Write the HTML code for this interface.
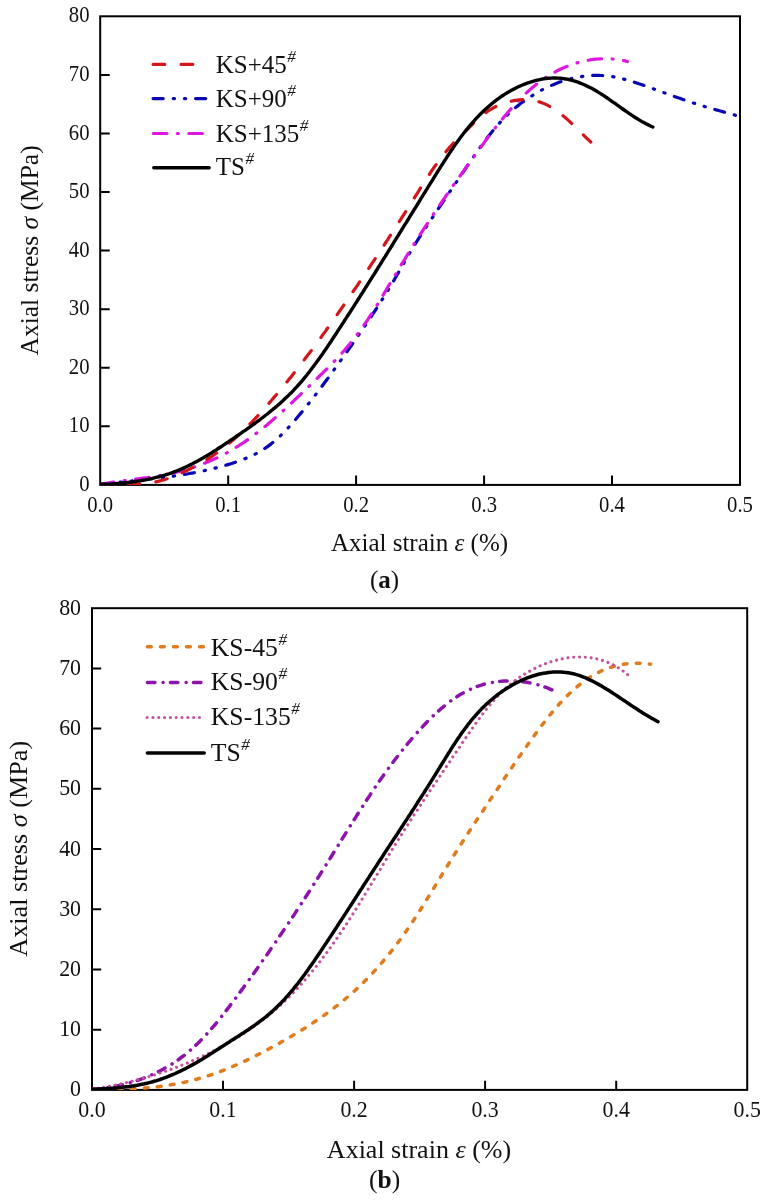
<!DOCTYPE html>
<html><head><meta charset="utf-8"><title>Axial stress-strain curves</title>
<style>
html,body{margin:0;padding:0;background:#fff;}
body{width:766px;height:1201px;overflow:hidden;}
svg{display:block;will-change:transform;}
text{font-family:"Liberation Serif", serif;fill:#111;}
</style></head><body>
<svg width="766" height="1201" viewBox="0 0 766 1201">
<rect width="766" height="1201" fill="#fff"/>
<clipPath id="ct"><rect x="100.25" y="16.3" width="639.75" height="468.6"/></clipPath>
<clipPath id="cb"><rect x="92" y="608.2" width="655.2" height="481.7"/></clipPath>
<rect x="100.2" y="16.3" width="639.8" height="468.6" fill="none" stroke="#000" stroke-width="2.0"/>
<path d="M100.2,426.3h9.5M100.2,367.8h9.5M100.2,309.2h9.5M100.2,250.6h9.5M100.2,192.0h9.5M100.2,133.4h9.5M100.2,74.9h9.5M228.2,484.9v-9.5M356.1,484.9v-9.5M484.1,484.9v-9.5M612.0,484.9v-9.5" stroke="#000" stroke-width="2.0" fill="none"/>
<text transform="translate(89.5,490.9) scale(0.900,1)" text-anchor="end" font-size="23.0">0</text>
<text transform="translate(89.5,432.4) scale(0.900,1)" text-anchor="end" font-size="23.0">10</text>
<text transform="translate(89.5,373.8) scale(0.900,1)" text-anchor="end" font-size="23.0">20</text>
<text transform="translate(89.5,315.2) scale(0.900,1)" text-anchor="end" font-size="23.0">30</text>
<text transform="translate(89.5,256.6) scale(0.900,1)" text-anchor="end" font-size="23.0">40</text>
<text transform="translate(89.5,198.1) scale(0.900,1)" text-anchor="end" font-size="23.0">50</text>
<text transform="translate(89.5,139.5) scale(0.900,1)" text-anchor="end" font-size="23.0">60</text>
<text transform="translate(89.5,80.9) scale(0.900,1)" text-anchor="end" font-size="23.0">70</text>
<text transform="translate(89.5,22.4) scale(0.900,1)" text-anchor="end" font-size="23.0">80</text>
<text transform="translate(100.2,511.5) scale(0.900,1)" text-anchor="middle" font-size="23.0">0.0</text>
<text transform="translate(228.2,511.5) scale(0.900,1)" text-anchor="middle" font-size="23.0">0.1</text>
<text transform="translate(356.1,511.5) scale(0.900,1)" text-anchor="middle" font-size="23.0">0.2</text>
<text transform="translate(484.1,511.5) scale(0.900,1)" text-anchor="middle" font-size="23.0">0.3</text>
<text transform="translate(612.0,511.5) scale(0.900,1)" text-anchor="middle" font-size="23.0">0.4</text>
<text transform="translate(740.0,511.5) scale(0.900,1)" text-anchor="middle" font-size="23.0">0.5</text>
<path d="M100.0,484.5L102.5,484.2L105.0,483.9L107.5,483.6L109.9,483.3L112.4,483.0L114.9,482.7L117.4,482.5L119.9,482.2L122.4,481.9L124.9,481.7L127.4,481.4L129.9,481.1L132.4,480.9L134.8,480.6L137.3,480.4L139.8,480.1L142.3,479.8L144.8,479.6L147.3,479.3L149.8,479.0L152.3,478.7L154.8,478.5L157.2,478.2L159.7,477.9L162.2,477.6L164.7,477.2L167.2,476.9L169.7,476.6L172.2,476.3L174.6,475.9L177.1,475.5L179.6,475.2L182.1,474.8L184.5,474.4L187.0,474.0L189.5,473.5L191.9,473.1L194.4,472.7L196.9,472.2L199.3,471.7L201.8,471.2L204.2,470.7L206.7,470.1L209.1,469.6L211.5,469.0L214.0,468.4L216.4,467.8L218.8,467.2L221.2,466.5L223.7,465.8L226.1,465.1L228.5,464.4L230.9,463.7L233.2,462.9L235.6,462.1L238.0,461.3L240.3,460.5L242.7,459.6L245.0,458.7L247.3,457.7L249.6,456.7L251.9,455.7L254.2,454.6L256.4,453.5L258.6,452.3L260.8,451.0L262.9,449.7L265.0,448.3L267.1,446.9L269.1,445.4L271.1,443.9L273.0,442.3L274.9,440.7L276.8,439.1L278.7,437.4L280.5,435.7L282.3,433.9L284.0,432.2L285.8,430.3L287.5,428.5L289.2,426.7L290.9,424.8L292.5,423.0L294.2,421.1L295.8,419.2L297.4,417.3L299.1,415.3L300.7,413.4L302.3,411.5L303.8,409.5L305.4,407.6L307.0,405.7L308.5,403.7L310.1,401.7L311.7,399.8L313.2,397.8L314.7,395.8L316.3,393.8L317.8,391.8L319.3,389.8L320.8,387.8L322.3,385.8L323.8,383.8L325.3,381.8L326.8,379.8L328.3,377.8L329.7,375.8L331.2,373.7L332.7,371.7L334.1,369.7L335.6,367.6L337.1,365.6L338.5,363.6L340.0,361.5L341.4,359.5L342.9,357.5L344.3,355.4L345.8,353.4L347.2,351.3L348.7,349.3L350.1,347.2L351.6,345.2L353.0,343.1L354.4,341.1L355.9,339.0L357.3,337.0L358.7,334.9L360.1,332.9L361.6,330.8L363.0,328.7L364.4,326.7L365.8,324.6L367.2,322.5L368.6,320.4L370.0,318.3L371.4,316.3L372.8,314.2L374.1,312.1L375.5,310.0L376.9,307.9L378.2,305.8L379.6,303.7L380.9,301.6L382.3,299.4L383.6,297.3L384.9,295.2L386.2,293.1L387.6,290.9L388.9,288.8L390.2,286.7L391.4,284.5L392.7,282.4L394.0,280.2L395.3,278.0L396.5,275.9L397.8,273.7L399.0,271.5L400.3,269.4L401.5,267.2L402.8,265.0L404.0,262.8L405.3,260.7L406.5,258.5L407.8,256.4L409.0,254.2L410.3,252.0L411.6,249.9L412.9,247.7L414.2,245.6L415.5,243.5L416.9,241.4L418.2,239.2L419.6,237.1L420.9,235.0L422.3,232.9L423.7,230.8L425.0,228.8L426.4,226.7L427.8,224.6L429.2,222.5L430.6,220.4L432.0,218.3L433.4,216.2L434.8,214.2L436.1,212.1L437.5,210.0L438.9,207.9L440.3,205.8L441.7,203.8L443.1,201.7L444.5,199.6L445.9,197.5L447.3,195.5L448.7,193.4L450.1,191.3L451.5,189.2L452.9,187.2L454.3,185.1L455.8,183.0L457.2,180.9L458.6,178.9L460.0,176.8L461.4,174.7L462.8,172.6L464.2,170.6L465.6,168.5L467.0,166.4L468.4,164.3L469.8,162.3L471.2,160.2L472.6,158.1L474.0,156.1L475.4,154.0L476.9,151.9L478.3,149.9L479.8,147.9L481.2,145.8L482.7,143.8L484.2,141.8L485.7,139.8L487.2,137.8L488.8,135.8L490.3,133.9L491.9,131.9L493.5,130.0L495.1,128.1L496.7,126.2L498.4,124.3L500.1,122.4L501.8,120.6L503.5,118.8L505.3,117.0L507.1,115.3L508.9,113.5L510.7,111.8L512.6,110.2L514.5,108.5L516.4,106.9L518.4,105.4L520.3,103.8L522.3,102.3L524.3,100.8L526.4,99.4L528.5,98.0L530.6,96.6L532.7,95.3L534.8,93.9L537.0,92.7L539.1,91.4L541.3,90.2L543.6,89.1L545.8,88.0L548.1,86.9L550.4,85.9L552.6,84.9L555.0,83.9L557.3,83.0L559.6,82.1L562.0,81.3L564.4,80.6L566.8,79.8L569.2,79.2L571.6,78.5L574.1,78.0L576.5,77.4L579.0,77.0L581.5,76.6L583.9,76.2L586.4,75.9L588.9,75.7L591.4,75.5L593.9,75.4L596.4,75.4L598.9,75.4L601.4,75.5L603.9,75.6L606.4,75.9L608.9,76.2L611.4,76.5L613.9,76.9L616.3,77.4L618.8,77.9L621.2,78.5L623.6,79.1L626.0,79.7L628.5,80.4L630.9,81.1L633.3,81.9L635.6,82.6L638.0,83.4L640.4,84.2L642.8,85.0L645.1,85.9L647.5,86.7L649.8,87.6L652.2,88.4L654.5,89.3L656.9,90.1L659.3,91.0L661.6,91.8L664.0,92.7L666.3,93.5L668.7,94.4L671.0,95.2L673.4,96.1L675.7,96.9L678.1,97.8L680.5,98.6L682.8,99.4L685.2,100.3L687.6,101.1L689.9,101.9L692.3,102.7L694.7,103.4L697.1,104.2L699.5,104.9L701.9,105.7L704.3,106.4L706.7,107.1L709.1,107.8L711.5,108.5L713.9,109.2L716.3,109.9L718.7,110.5L721.1,111.2L723.5,111.9L725.9,112.6L728.4,113.2L730.8,113.9L733.2,114.6L735.6,115.3L738.0,115.9L740.4,116.6L742.8,117.3L745.2,118.0L747.6,118.8L750.0,119.5" fill="none" stroke="#0707b4" stroke-width="3.20" stroke-linecap="round" stroke-linejoin="round" stroke-dasharray="10.1 10 1.3 9.9 1.3 9.9" clip-path="url(#ct)" />
<path d="M100.5,484.4L103.0,483.9L105.4,483.5L107.9,483.0L110.4,482.6L112.8,482.2L115.3,481.9L117.8,481.5L120.3,481.1L122.8,480.8L125.2,480.5L127.7,480.1L130.2,479.8L132.7,479.5L135.2,479.2L137.7,478.8L140.1,478.5L142.6,478.2L145.1,477.8L147.6,477.5L150.1,477.1L152.5,476.8L155.0,476.4L157.5,476.0L160.0,475.6L162.4,475.1L164.9,474.7L167.3,474.2L169.8,473.7L172.2,473.1L174.7,472.6L177.1,472.0L179.5,471.4L182.0,470.7L184.4,470.0L186.8,469.3L189.2,468.6L191.6,467.9L194.0,467.1L196.3,466.3L198.7,465.4L201.0,464.6L203.4,463.7L205.7,462.7L208.0,461.8L210.3,460.8L212.6,459.8L214.9,458.8L217.2,457.7L219.4,456.6L221.7,455.5L223.9,454.3L226.1,453.2L228.3,452.0L230.5,450.7L232.6,449.5L234.8,448.2L236.9,446.8L239.0,445.5L241.1,444.1L243.2,442.8L245.3,441.4L247.3,439.9L249.4,438.5L251.4,437.0L253.4,435.5L255.4,434.0L257.4,432.5L259.4,431.0L261.4,429.4L263.3,427.8L265.3,426.2L267.2,424.7L269.1,423.0L271.0,421.4L272.9,419.8L274.8,418.1L276.7,416.5L278.6,414.8L280.4,413.2L282.3,411.5L284.1,409.8L286.0,408.1L287.8,406.4L289.7,404.7L291.5,403.0L293.3,401.3L295.1,399.5L296.9,397.8L298.8,396.1L300.6,394.3L302.4,392.6L304.2,390.9L306.0,389.1L307.8,387.4L309.6,385.7L311.4,383.9L313.2,382.2L315.0,380.5L316.8,378.7L318.6,377.0L320.4,375.2L322.2,373.5L324.0,371.7L325.8,370.0L327.5,368.2L329.3,366.4L331.1,364.6L332.8,362.8L334.6,361.0L336.3,359.2L338.0,357.4L339.7,355.6L341.4,353.7L343.1,351.8L344.7,350.0L346.3,348.1L348.0,346.1L349.6,344.2L351.1,342.3L352.7,340.3L354.3,338.4L355.8,336.4L357.3,334.4L358.8,332.4L360.3,330.3L361.7,328.3L363.2,326.3L364.6,324.2L366.0,322.2L367.5,320.1L368.8,318.0L370.2,315.9L371.6,313.8L372.9,311.7L374.3,309.6L375.6,307.4L376.9,305.3L378.2,303.2L379.5,301.0L380.8,298.9L382.1,296.7L383.4,294.6L384.7,292.4L386.0,290.3L387.2,288.1L388.5,286.0L389.8,283.8L391.1,281.7L392.4,279.5L393.7,277.4L395.0,275.2L396.3,273.1L397.5,271.0L398.8,268.8L400.1,266.7L401.4,264.5L402.8,262.4L404.1,260.3L405.4,258.1L406.7,256.0L408.0,253.9L409.3,251.7L410.6,249.6L412.0,247.5L413.3,245.4L414.6,243.2L416.0,241.1L417.3,239.0L418.7,236.9L420.0,234.8L421.4,232.7L422.7,230.6L424.1,228.5L425.5,226.4L426.8,224.3L428.2,222.2L429.6,220.1L431.0,218.0L432.4,215.9L433.7,213.8L435.1,211.7L436.5,209.7L437.9,207.6L439.4,205.5L440.8,203.5L442.2,201.4L443.6,199.3L445.0,197.3L446.4,195.2L447.9,193.1L449.3,191.1L450.7,189.0L452.2,187.0L453.6,184.9L455.1,182.9L456.5,180.8L458.0,178.8L459.4,176.8L460.9,174.7L462.3,172.7L463.8,170.6L465.2,168.6L466.7,166.6L468.2,164.5L469.6,162.5L471.1,160.5L472.6,158.5L474.1,156.4L475.5,154.4L477.0,152.4L478.5,150.4L480.0,148.4L481.5,146.3L483.0,144.3L484.4,142.3L485.9,140.3L487.4,138.3L488.9,136.3L490.4,134.3L491.9,132.3L493.5,130.3L495.0,128.3L496.5,126.3L498.1,124.3L499.6,122.4L501.2,120.4L502.8,118.5L504.3,116.5L506.0,114.6L507.6,112.7L509.2,110.8L510.9,108.9L512.5,107.0L514.2,105.2L515.9,103.4L517.6,101.5L519.4,99.7L521.1,98.0L522.9,96.2L524.7,94.5L526.6,92.7L528.4,91.1L530.3,89.4L532.2,87.8L534.1,86.2L536.1,84.6L538.0,83.1L540.0,81.5L542.1,80.1L544.1,78.6L546.2,77.3L548.3,75.9L550.4,74.6L552.6,73.3L554.8,72.1L557.0,70.9L559.2,69.8L561.5,68.7L563.8,67.7L566.1,66.7L568.4,65.8L570.8,64.9L573.1,64.1L575.5,63.3L577.9,62.6L580.3,62.0L582.8,61.4L585.2,60.8L587.7,60.3L590.1,59.9L592.6,59.5L595.1,59.2L597.6,59.0L600.1,58.8L602.6,58.7L605.1,58.7L607.6,58.7L610.1,58.8L612.6,59.0L615.1,59.2L617.6,59.5L620.1,59.9L622.5,60.3L625.0,60.9L627.4,61.5" fill="none" stroke="#dc18e0" stroke-width="3.20" stroke-linecap="round" stroke-linejoin="round" stroke-dasharray="13.5 10.5 1 10.5" clip-path="url(#ct)" />
<path d="M100.0,484.5L102.5,484.5L105.0,484.5L107.5,484.6L110.0,484.6L112.5,484.6L115.0,484.7L117.6,484.7L120.1,484.7L122.6,484.7L125.1,484.7L127.6,484.7L130.1,484.6L132.6,484.5L135.1,484.4L137.6,484.3L140.1,484.1L142.6,483.9L145.1,483.6L147.6,483.3L150.1,482.9L152.6,482.5L155.0,482.1L157.5,481.5L159.9,480.9L162.3,480.3L164.7,479.6L167.1,478.8L169.5,478.0L171.8,477.1L174.2,476.2L176.5,475.2L178.8,474.2L181.1,473.2L183.3,472.1L185.6,471.1L187.9,470.0L190.1,468.9L192.4,467.7L194.6,466.6L196.8,465.4L199.0,464.2L201.2,463.0L203.4,461.7L205.5,460.4L207.6,459.1L209.8,457.7L211.8,456.4L213.9,454.9L216.0,453.5L218.0,452.0L220.0,450.5L222.0,449.0L224.0,447.5L226.0,445.9L227.9,444.3L229.8,442.7L231.7,441.1L233.6,439.5L235.5,437.8L237.4,436.1L239.2,434.4L241.1,432.7L242.9,431.0L244.7,429.2L246.5,427.5L248.3,425.7L250.0,423.9L251.8,422.1L253.5,420.3L255.2,418.5L257.0,416.7L258.7,414.9L260.4,413.0L262.0,411.1L263.7,409.3L265.4,407.4L267.1,405.5L268.7,403.6L270.3,401.7L272.0,399.8L273.6,397.9L275.2,396.0L276.9,394.1L278.5,392.2L280.1,390.3L281.7,388.3L283.3,386.4L284.9,384.5L286.4,382.5L288.0,380.6L289.6,378.6L291.2,376.7L292.7,374.7L294.3,372.7L295.8,370.7L297.4,368.8L298.9,366.8L300.4,364.8L302.0,362.8L303.5,360.8L305.0,358.8L306.5,356.8L308.0,354.8L309.6,352.8L311.1,350.8L312.6,348.8L314.0,346.8L315.5,344.8L317.0,342.8L318.5,340.7L320.0,338.7L321.5,336.7L322.9,334.6L324.4,332.6L325.9,330.6L327.3,328.5L328.8,326.5L330.2,324.4L331.7,322.4L333.1,320.4L334.6,318.3L336.0,316.3L337.5,314.2L338.9,312.1L340.3,310.1L341.8,308.0L343.2,306.0L344.6,303.9L346.0,301.8L347.5,299.8L348.9,297.7L350.3,295.6L351.7,293.6L353.1,291.5L354.6,289.4L356.0,287.4L357.4,285.3L358.8,283.2L360.2,281.1L361.6,279.0L363.0,277.0L364.4,274.9L365.8,272.8L367.2,270.7L368.6,268.6L370.0,266.5L371.3,264.4L372.7,262.4L374.1,260.3L375.5,258.2L376.9,256.1L378.3,254.0L379.6,251.9L381.0,249.8L382.4,247.7L383.8,245.6L385.1,243.5L386.5,241.4L387.9,239.3L389.2,237.2L390.6,235.1L392.0,233.0L393.3,230.9L394.7,228.8L396.0,226.7L397.4,224.5L398.8,222.4L400.1,220.3L401.5,218.2L402.8,216.1L404.2,214.0L405.5,211.9L406.9,209.7L408.2,207.6L409.5,205.5L410.9,203.4L412.2,201.3L413.6,199.2L414.9,197.0L416.2,194.9L417.6,192.8L418.9,190.7L420.2,188.5L421.6,186.4L422.9,184.3L424.3,182.2L425.6,180.1L427.0,178.0L428.4,175.9L429.7,173.8L431.1,171.7L432.5,169.6L434.0,167.5L435.4,165.5L436.9,163.4L438.3,161.4L439.8,159.4L441.4,157.4L442.9,155.4L444.5,153.5L446.1,151.5L447.7,149.6L449.3,147.7L451.0,145.9L452.7,144.0L454.4,142.2L456.2,140.4L457.9,138.6L459.7,136.9L461.5,135.1L463.3,133.3L465.1,131.6L466.8,129.8L468.6,128.0L470.4,126.3L472.2,124.5L474.0,122.7L475.8,121.0L477.6,119.3L479.5,117.6L481.4,116.0L483.4,114.4L485.4,112.9L487.4,111.5L489.5,110.1L491.7,108.8L493.8,107.6L496.1,106.4L498.4,105.4L500.7,104.4L503.0,103.5L505.4,102.7L507.8,102.0L510.2,101.4L512.7,100.9L515.1,100.4L517.6,100.1L520.1,99.9L522.6,99.7L525.1,99.7L527.7,99.8L530.2,100.0L532.6,100.4L535.1,100.8L537.5,101.4L539.9,102.1L542.3,102.9L544.6,103.9L546.9,104.9L549.1,106.1L551.3,107.3L553.5,108.6L555.6,110.0L557.6,111.5L559.6,113.0L561.6,114.5L563.5,116.1L565.4,117.7L567.3,119.4L569.2,121.1L571.0,122.8L572.8,124.5L574.6,126.2L576.4,128.0L578.2,129.8L580.0,131.5L581.8,133.3L583.6,135.1L585.3,136.8L587.1,138.6L589.0,140.3L590.8,142.0" fill="none" stroke="#d3161c" stroke-width="3.20" stroke-linecap="round" stroke-linejoin="round" stroke-dasharray="11.7 16.3" clip-path="url(#ct)" />
<path d="M100.5,484.4L103.0,484.3L105.5,484.2L108.0,484.1L110.5,484.0L113.0,483.8L115.5,483.7L118.0,483.5L120.5,483.3L123.0,483.0L125.5,482.8L127.9,482.5L130.4,482.2L132.9,481.9L135.4,481.5L137.8,481.1L140.3,480.7L142.8,480.3L145.2,479.9L147.7,479.4L150.1,478.9L152.6,478.3L155.0,477.7L157.4,477.1L159.9,476.5L162.3,475.8L164.7,475.1L167.1,474.3L169.4,473.6L171.8,472.8L174.1,471.9L176.5,471.0L178.8,470.1L181.1,469.1L183.4,468.1L185.7,467.1L187.9,466.0L190.2,464.9L192.4,463.8L194.6,462.6L196.8,461.4L199.0,460.2L201.2,459.0L203.4,457.8L205.5,456.5L207.7,455.2L209.8,453.9L211.9,452.6L214.0,451.2L216.2,449.9L218.3,448.5L220.3,447.2L222.4,445.8L224.5,444.4L226.6,443.0L228.7,441.6L230.7,440.2L232.8,438.8L234.9,437.4L236.9,436.0L239.0,434.6L241.1,433.2L243.1,431.7L245.2,430.3L247.2,428.9L249.3,427.4L251.3,426.0L253.3,424.5L255.4,423.0L257.4,421.5L259.4,420.1L261.4,418.5L263.4,417.0L265.3,415.5L267.3,414.0L269.3,412.4L271.2,410.8L273.1,409.2L275.1,407.6L277.0,406.0L278.8,404.4L280.7,402.7L282.6,401.0L284.4,399.3L286.2,397.6L288.0,395.9L289.8,394.1L291.6,392.4L293.3,390.6L295.0,388.7L296.7,386.9L298.4,385.0L300.1,383.2L301.7,381.3L303.3,379.4L304.9,377.4L306.5,375.5L308.0,373.5L309.6,371.6L311.1,369.6L312.6,367.6L314.1,365.6L315.6,363.6L317.1,361.6L318.5,359.5L320.0,357.5L321.4,355.5L322.9,353.4L324.3,351.3L325.7,349.3L327.1,347.2L328.5,345.1L329.9,343.0L331.3,341.0L332.6,338.9L334.0,336.8L335.4,334.7L336.8,332.6L338.1,330.5L339.5,328.4L340.9,326.3L342.2,324.2L343.6,322.1L344.9,320.0L346.3,317.9L347.6,315.8L349.0,313.7L350.4,311.6L351.7,309.5L353.1,307.4L354.4,305.3L355.7,303.2L357.1,301.1L358.4,299.0L359.8,296.9L361.1,294.7L362.5,292.6L363.8,290.5L365.1,288.4L366.5,286.3L367.8,284.2L369.1,282.1L370.5,279.9L371.8,277.8L373.1,275.7L374.5,273.6L375.8,271.5L377.1,269.3L378.4,267.2L379.8,265.1L381.1,263.0L382.4,260.9L383.7,258.7L385.1,256.6L386.4,254.5L387.7,252.4L389.0,250.2L390.4,248.1L391.7,246.0L393.0,243.9L394.3,241.7L395.6,239.6L396.9,237.5L398.3,235.4L399.6,233.2L400.9,231.1L402.2,229.0L403.5,226.9L404.8,224.7L406.2,222.6L407.5,220.5L408.8,218.4L410.1,216.2L411.4,214.1L412.7,212.0L414.0,209.8L415.4,207.7L416.7,205.6L418.0,203.5L419.3,201.3L420.6,199.2L421.9,197.1L423.2,194.9L424.6,192.8L425.9,190.7L427.2,188.6L428.5,186.4L429.8,184.3L431.1,182.2L432.5,180.1L433.8,177.9L435.1,175.8L436.4,173.7L437.7,171.6L439.1,169.4L440.4,167.3L441.7,165.2L443.1,163.1L444.4,161.0L445.8,158.9L447.1,156.8L448.5,154.7L449.9,152.6L451.3,150.5L452.7,148.5L454.1,146.4L455.5,144.4L457.0,142.3L458.5,140.3L459.9,138.3L461.4,136.3L462.9,134.3L464.5,132.3L466.0,130.3L467.6,128.4L469.2,126.5L470.8,124.6L472.4,122.7L474.1,120.8L475.8,118.9L477.5,117.1L479.2,115.3L481.0,113.5L482.8,111.8L484.6,110.1L486.4,108.4L488.3,106.7L490.2,105.1L492.1,103.5L494.1,101.9L496.0,100.4L498.0,98.9L500.1,97.4L502.1,96.0L504.2,94.6L506.4,93.3L508.5,92.0L510.7,90.8L512.9,89.6L515.1,88.4L517.3,87.3L519.6,86.3L521.9,85.3L524.2,84.3L526.5,83.4L528.9,82.6L531.3,81.8L533.7,81.1L536.1,80.4L538.5,79.8L541.0,79.3L543.4,78.9L545.9,78.5L548.4,78.3L550.9,78.1L553.4,78.0L555.9,78.0L558.4,78.1L560.9,78.3L563.4,78.6L565.8,79.0L568.3,79.4L570.7,80.0L573.1,80.7L575.5,81.4L577.9,82.2L580.2,83.1L582.5,84.0L584.8,85.0L587.1,86.1L589.3,87.2L591.6,88.3L593.8,89.5L595.9,90.8L598.1,92.1L600.2,93.4L602.3,94.7L604.4,96.1L606.5,97.5L608.5,98.9L610.6,100.3L612.6,101.8L614.7,103.2L616.7,104.7L618.7,106.1L620.8,107.6L622.8,109.0L624.9,110.5L626.9,111.9L629.0,113.3L631.0,114.7L633.1,116.1L635.2,117.5L637.3,118.8L639.5,120.1L641.6,121.4L643.8,122.6L646.0,123.8L648.3,124.9L650.5,126.0L652.8,127.0" fill="none" stroke="#000" stroke-width="3.40" stroke-linecap="round" stroke-linejoin="round" clip-path="url(#ct)" />
<path d="M153.1,64.4H193.0" stroke="#d3161c" stroke-width="3.20" stroke-linecap="round" stroke-dasharray="11.7 16.3" />
<text x="215.7" y="73.1" font-size="25.0">KS+45<tspan font-size="17.0" font-style="italic" dx="0.5" dy="-11.0">#</tspan></text>
<path d="M153.1,98.6H206.1" stroke="#0707b4" stroke-width="3.20" stroke-linecap="round" stroke-dasharray="10.1 10 1.3 9.9 1.3 9.9" />
<text x="215.7" y="106.6" font-size="25.0">KS+90<tspan font-size="17.0" font-style="italic" dx="0.5" dy="-11.0">#</tspan></text>
<path d="M153.4,133.5H202.9" stroke="#dc18e0" stroke-width="3.20" stroke-linecap="round" stroke-dasharray="13.5 10.5 1 10.5" />
<text x="215.7" y="142.0" font-size="25.0">KS+135<tspan font-size="17.0" font-style="italic" dx="0.5" dy="-11.0">#</tspan></text>
<path d="M153.8,167.7H209.1" stroke="#000" stroke-width="3.50" stroke-linecap="round" />
<text x="215.7" y="175.4" font-size="25.0">TS<tspan font-size="17.0" font-style="italic" dx="0.5" dy="-11.0">#</tspan></text>
<text x="419.5" y="550.6" text-anchor="middle" font-size="25">Axial strain <tspan font-style="italic">&#949;</tspan> (%)</text>
<text transform="translate(37.7,250.4) rotate(-90)" text-anchor="middle" font-size="25.5">Axial stress <tspan font-style="italic">&#963;</tspan> (MPa)</text>
<text x="384.5" y="587.8" text-anchor="middle" font-size="25">(<tspan font-weight="bold">a</tspan>)</text>
<rect x="92.0" y="608.2" width="655.2" height="481.7" fill="none" stroke="#000" stroke-width="2.0"/>
<path d="M92.0,1029.7h9.2M92.0,969.5h9.2M92.0,909.3h9.2M92.0,849.1h9.2M92.0,788.8h9.2M92.0,728.6h9.2M92.0,668.4h9.2M223.0,1089.9v-9.2M354.1,1089.9v-9.2M485.1,1089.9v-9.2M616.2,1089.9v-9.2" stroke="#000" stroke-width="2.0" fill="none"/>
<text transform="translate(81.0,1096.4) scale(0.960,1)" text-anchor="end" font-size="22.8">0</text>
<text transform="translate(81.0,1036.2) scale(0.960,1)" text-anchor="end" font-size="22.8">10</text>
<text transform="translate(81.0,976.0) scale(0.960,1)" text-anchor="end" font-size="22.8">20</text>
<text transform="translate(81.0,915.8) scale(0.960,1)" text-anchor="end" font-size="22.8">30</text>
<text transform="translate(81.0,855.6) scale(0.960,1)" text-anchor="end" font-size="22.8">40</text>
<text transform="translate(81.0,795.3) scale(0.960,1)" text-anchor="end" font-size="22.8">50</text>
<text transform="translate(81.0,735.1) scale(0.960,1)" text-anchor="end" font-size="22.8">60</text>
<text transform="translate(81.0,674.9) scale(0.960,1)" text-anchor="end" font-size="22.8">70</text>
<text transform="translate(81.0,614.7) scale(0.960,1)" text-anchor="end" font-size="22.8">80</text>
<text transform="translate(92.0,1117.4) scale(0.960,1)" text-anchor="middle" font-size="22.8">0.0</text>
<text transform="translate(223.0,1117.4) scale(0.960,1)" text-anchor="middle" font-size="22.8">0.1</text>
<text transform="translate(354.1,1117.4) scale(0.960,1)" text-anchor="middle" font-size="22.8">0.2</text>
<text transform="translate(485.1,1117.4) scale(0.960,1)" text-anchor="middle" font-size="22.8">0.3</text>
<text transform="translate(616.2,1117.4) scale(0.960,1)" text-anchor="middle" font-size="22.8">0.4</text>
<text transform="translate(747.2,1117.4) scale(0.960,1)" text-anchor="middle" font-size="22.8">0.5</text>
<path d="M92.2,1089.3L94.7,1089.4L97.2,1089.4L99.7,1089.4L102.2,1089.4L104.7,1089.5L107.2,1089.5L109.8,1089.5L112.3,1089.4L114.8,1089.4L117.3,1089.4L119.8,1089.3L122.3,1089.2L124.8,1089.1L127.3,1089.1L129.8,1088.9L132.3,1088.8L134.8,1088.7L137.3,1088.5L139.8,1088.4L142.3,1088.2L144.8,1088.0L147.3,1087.8L149.8,1087.5L152.3,1087.3L154.8,1087.0L157.3,1086.7L159.8,1086.4L162.3,1086.1L164.8,1085.7L167.3,1085.3L169.7,1085.0L172.2,1084.5L174.7,1084.1L177.1,1083.7L179.6,1083.2L182.1,1082.7L184.5,1082.2L187.0,1081.6L189.4,1081.1L191.8,1080.5L194.3,1079.8L196.7,1079.2L199.1,1078.5L201.5,1077.8L203.9,1077.1L206.3,1076.4L208.7,1075.6L211.1,1074.8L213.5,1074.0L215.8,1073.1L218.2,1072.3L220.5,1071.4L222.9,1070.5L225.2,1069.6L227.5,1068.7L229.9,1067.7L232.2,1066.7L234.5,1065.7L236.8,1064.7L239.1,1063.7L241.3,1062.7L243.6,1061.6L245.9,1060.6L248.2,1059.5L250.4,1058.4L252.7,1057.3L254.9,1056.2L257.1,1055.0L259.4,1053.9L261.6,1052.7L263.8,1051.6L266.0,1050.4L268.3,1049.2L270.5,1048.0L272.7,1046.8L274.9,1045.6L277.1,1044.4L279.3,1043.2L281.4,1041.9L283.6,1040.7L285.8,1039.5L288.0,1038.2L290.1,1037.0L292.3,1035.7L294.5,1034.4L296.6,1033.1L298.8,1031.8L300.9,1030.5L303.0,1029.2L305.2,1027.9L307.3,1026.5L309.4,1025.2L311.5,1023.8L313.6,1022.4L315.7,1021.0L317.8,1019.6L319.8,1018.2L321.9,1016.8L324.0,1015.4L326.0,1013.9L328.0,1012.4L330.0,1010.9L332.1,1009.4L334.1,1007.9L336.0,1006.4L338.0,1004.9L340.0,1003.3L341.9,1001.7L343.9,1000.1L345.8,998.5L347.7,996.9L349.6,995.2L351.5,993.6L353.4,991.9L355.2,990.2L357.1,988.5L358.9,986.8L360.7,985.1L362.5,983.3L364.3,981.6L366.1,979.8L367.8,978.0L369.6,976.2L371.3,974.4L373.0,972.6L374.7,970.7L376.4,968.9L378.1,967.0L379.7,965.1L381.4,963.2L383.0,961.3L384.6,959.4L386.2,957.5L387.8,955.5L389.4,953.6L391.0,951.6L392.5,949.7L394.1,947.7L395.6,945.7L397.1,943.7L398.6,941.7L400.1,939.7L401.6,937.6L403.0,935.6L404.5,933.5L405.9,931.5L407.4,929.4L408.8,927.4L410.2,925.3L411.6,923.2L413.0,921.1L414.4,919.0L415.7,916.9L417.1,914.8L418.5,912.7L419.8,910.6L421.2,908.5L422.5,906.4L423.8,904.3L425.2,902.1L426.5,900.0L427.8,897.9L429.1,895.7L430.4,893.6L431.8,891.5L433.1,889.3L434.4,887.2L435.7,885.0L437.0,882.9L438.3,880.7L439.6,878.6L440.9,876.5L442.2,874.3L443.5,872.2L444.8,870.0L446.1,867.9L447.4,865.8L448.7,863.6L450.1,861.5L451.4,859.4L452.7,857.2L454.0,855.1L455.4,853.0L456.7,850.9L458.1,848.7L459.4,846.6L460.8,844.5L462.1,842.4L463.5,840.3L464.8,838.2L466.2,836.1L467.6,834.0L468.9,831.9L470.3,829.8L471.7,827.7L473.1,825.6L474.5,823.5L475.8,821.4L477.2,819.3L478.6,817.2L480.0,815.1L481.4,813.0L482.8,810.9L484.2,808.9L485.5,806.8L486.9,804.7L488.3,802.6L489.7,800.5L491.1,798.4L492.5,796.3L493.9,794.2L495.3,792.2L496.7,790.1L498.1,788.0L499.5,785.9L500.9,783.8L502.2,781.7L503.6,779.6L505.0,777.6L506.4,775.5L507.8,773.4L509.3,771.3L510.7,769.3L512.1,767.2L513.5,765.1L514.9,763.0L516.3,761.0L517.7,758.9L519.2,756.8L520.6,754.8L522.0,752.7L523.5,750.7L524.9,748.6L526.4,746.6L527.8,744.5L529.3,742.5L530.7,740.4L532.2,738.4L533.7,736.4L535.1,734.3L536.6,732.3L538.1,730.3L539.6,728.3L541.1,726.3L542.6,724.3L544.2,722.3L545.7,720.3L547.3,718.3L548.8,716.4L550.4,714.4L552.0,712.5L553.6,710.6L555.2,708.7L556.9,706.8L558.5,704.9L560.2,703.0L561.9,701.2L563.7,699.4L565.4,697.6L567.2,695.8L569.0,694.1L570.8,692.3L572.6,690.6L574.5,689.0L576.4,687.3L578.3,685.7L580.3,684.2L582.3,682.6L584.3,681.1L586.4,679.7L588.4,678.3L590.5,676.9L592.7,675.6L594.9,674.4L597.1,673.2L599.3,672.0L601.5,670.9L603.8,669.9L606.2,668.9L608.5,668.1L610.9,667.2L613.3,666.5L615.7,665.8L618.1,665.2L620.6,664.7L623.0,664.2L625.5,663.9L628.0,663.6L630.5,663.4L633.0,663.2L635.5,663.1L638.0,663.2L640.5,663.2L643.0,663.4L645.5,663.6L648.0,663.9L650.5,664.3" fill="none" stroke="#e07c1e" stroke-width="3.50" stroke-linecap="round" stroke-linejoin="round" stroke-dasharray="3.8 9.25" clip-path="url(#cb)" />
<path d="M92.2,1089.3L94.7,1089.1L97.2,1088.9L99.7,1088.7L102.2,1088.4L104.6,1088.1L107.1,1087.8L109.6,1087.4L112.1,1087.0L114.5,1086.5L117.0,1086.0L119.4,1085.5L121.9,1084.9L124.3,1084.3L126.7,1083.7L129.1,1083.0L131.5,1082.3L133.9,1081.6L136.3,1080.8L138.7,1080.0L141.0,1079.2L143.4,1078.3L145.7,1077.4L148.0,1076.4L150.3,1075.4L152.6,1074.4L154.9,1073.4L157.1,1072.3L159.3,1071.2L161.6,1070.0L163.8,1068.8L165.9,1067.6L168.1,1066.3L170.2,1065.0L172.4,1063.7L174.5,1062.3L176.5,1060.9L178.6,1059.5L180.6,1058.0L182.6,1056.5L184.6,1055.0L186.5,1053.4L188.4,1051.8L190.3,1050.2L192.2,1048.5L194.1,1046.9L195.9,1045.1L197.7,1043.4L199.5,1041.7L201.2,1039.9L203.0,1038.1L204.7,1036.3L206.4,1034.4L208.1,1032.6L209.8,1030.7L211.4,1028.8L213.0,1026.9L214.7,1025.0L216.3,1023.1L217.8,1021.2L219.4,1019.2L221.0,1017.3L222.5,1015.3L224.1,1013.4L225.6,1011.4L227.1,1009.4L228.7,1007.4L230.2,1005.4L231.7,1003.4L233.2,1001.4L234.7,999.4L236.2,997.4L237.7,995.4L239.1,993.4L240.6,991.4L242.1,989.4L243.6,987.3L245.1,985.3L246.5,983.3L248.0,981.3L249.5,979.2L250.9,977.2L252.4,975.2L253.9,973.2L255.3,971.1L256.8,969.1L258.2,967.0L259.7,965.0L261.1,963.0L262.5,960.9L264.0,958.9L265.4,956.8L266.9,954.8L268.3,952.7L269.7,950.7L271.1,948.6L272.6,946.6L274.0,944.5L275.4,942.4L276.8,940.4L278.2,938.3L279.6,936.2L281.0,934.2L282.4,932.1L283.8,930.0L285.2,927.9L286.6,925.9L288.0,923.8L289.4,921.7L290.8,919.6L292.2,917.6L293.6,915.5L295.0,913.4L296.3,911.3L297.7,909.2L299.1,907.1L300.5,905.0L301.8,902.9L303.2,900.8L304.6,898.7L305.9,896.6L307.3,894.5L308.6,892.4L310.0,890.3L311.3,888.2L312.7,886.1L314.0,884.0L315.4,881.9L316.7,879.8L318.0,877.7L319.4,875.6L320.7,873.4L322.1,871.3L323.4,869.2L324.7,867.1L326.0,865.0L327.4,862.8L328.7,860.7L330.0,858.6L331.3,856.5L332.6,854.3L333.9,852.2L335.3,850.1L336.6,847.9L337.9,845.8L339.2,843.7L340.5,841.6L341.8,839.4L343.1,837.3L344.5,835.2L345.8,833.1L347.1,830.9L348.4,828.8L349.7,826.7L351.1,824.6L352.4,822.4L353.7,820.3L355.1,818.2L356.4,816.1L357.7,814.0L359.1,811.9L360.4,809.7L361.8,807.6L363.1,805.5L364.5,803.4L365.8,801.3L367.2,799.2L368.6,797.2L370.0,795.1L371.3,793.0L372.7,790.9L374.1,788.8L375.5,786.8L376.9,784.7L378.4,782.6L379.8,780.6L381.2,778.5L382.7,776.5L384.1,774.4L385.6,772.4L387.0,770.4L388.5,768.4L390.0,766.3L391.5,764.3L393.0,762.3L394.5,760.3L396.0,758.3L397.5,756.4L399.1,754.4L400.6,752.4L402.2,750.5L403.7,748.5L405.3,746.6L406.9,744.6L408.5,742.7L410.1,740.8L411.7,738.9L413.3,737.0L415.0,735.1L416.6,733.2L418.3,731.4L420.0,729.5L421.7,727.7L423.4,725.8L425.1,724.0L426.8,722.2L428.6,720.4L430.3,718.6L432.1,716.9L433.9,715.1L435.7,713.4L437.6,711.7L439.5,710.1L441.3,708.4L443.3,706.8L445.2,705.2L447.2,703.7L449.1,702.2L451.1,700.7L453.2,699.2L455.3,697.8L457.3,696.5L459.5,695.1L461.6,693.8L463.8,692.6L466.0,691.4L468.2,690.3L470.5,689.2L472.8,688.2L475.1,687.3L477.4,686.4L479.8,685.6L482.2,684.8L484.6,684.1L487.0,683.5L489.5,683.0L491.9,682.5L494.4,682.1L496.9,681.7L499.3,681.4L501.8,681.2L504.3,681.0L506.8,680.9L509.3,680.9L511.8,680.9L514.3,681.0L516.8,681.1L519.3,681.3L521.8,681.6L524.3,681.9L526.8,682.3L529.2,682.7L531.7,683.2L534.1,683.8L536.5,684.4L538.9,685.1L541.3,685.8L543.7,686.6L546.1,687.4L548.4,688.3L550.7,689.3L553.0,690.3" fill="none" stroke="#8c14aa" stroke-width="3.50" stroke-linecap="round" stroke-linejoin="round" stroke-dasharray="7.5 8.2 0.01 7.3" clip-path="url(#cb)" />
<path d="M92.2,1089.3L94.7,1088.9L97.1,1088.5L99.6,1088.1L102.1,1087.7L104.5,1087.2L107.0,1086.8L109.5,1086.3L111.9,1085.8L114.4,1085.3L116.8,1084.8L119.3,1084.3L121.7,1083.7L124.2,1083.2L126.6,1082.6L129.0,1082.0L131.5,1081.4L133.9,1080.8L136.3,1080.1L138.7,1079.5L141.2,1078.8L143.6,1078.2L146.0,1077.5L148.4,1076.8L150.8,1076.0L153.2,1075.3L155.6,1074.6L157.9,1073.8L160.3,1073.0L162.7,1072.2L165.1,1071.4L167.4,1070.6L169.8,1069.8L172.1,1068.9L174.5,1068.0L176.8,1067.2L179.2,1066.3L181.5,1065.3L183.8,1064.4L186.2,1063.5L188.5,1062.5L190.8,1061.5L193.1,1060.5L195.4,1059.5L197.7,1058.5L199.9,1057.5L202.2,1056.4L204.5,1055.4L206.7,1054.3L209.0,1053.2L211.2,1052.1L213.5,1050.9L215.7,1049.8L217.9,1048.6L220.1,1047.5L222.3,1046.3L224.5,1045.0L226.7,1043.8L228.9,1042.6L231.0,1041.3L233.2,1040.0L235.3,1038.7L237.5,1037.4L239.6,1036.1L241.7,1034.8L243.8,1033.4L245.9,1032.0L248.0,1030.6L250.0,1029.2L252.1,1027.8L254.1,1026.3L256.2,1024.9L258.2,1023.4L260.2,1021.9L262.2,1020.4L264.2,1018.8L266.1,1017.3L268.1,1015.7L270.0,1014.1L271.9,1012.5L273.9,1010.9L275.8,1009.3L277.6,1007.6L279.5,1006.0L281.3,1004.3L283.2,1002.6L285.0,1000.8L286.8,999.1L288.6,997.3L290.4,995.6L292.1,993.8L293.9,992.0L295.6,990.2L297.3,988.4L299.0,986.5L300.7,984.7L302.4,982.8L304.0,980.9L305.7,979.1L307.3,977.2L308.9,975.2L310.5,973.3L312.1,971.4L313.7,969.5L315.3,967.5L316.9,965.5L318.4,963.6L319.9,961.6L321.5,959.6L323.0,957.6L324.5,955.6L326.0,953.6L327.5,951.6L328.9,949.6L330.4,947.5L331.8,945.5L333.3,943.4L334.7,941.4L336.2,939.3L337.6,937.3L339.0,935.2L340.4,933.1L341.8,931.1L343.2,929.0L344.6,926.9L345.9,924.8L347.3,922.7L348.7,920.6L350.0,918.5L351.4,916.4L352.7,914.3L354.0,912.1L355.4,910.0L356.7,907.9L358.0,905.8L359.4,903.7L360.7,901.5L362.0,899.4L363.3,897.3L364.6,895.1L365.9,893.0L367.2,890.8L368.5,888.7L369.8,886.6L371.1,884.4L372.4,882.3L373.7,880.1L375.0,878.0L376.3,875.8L377.6,873.7L378.9,871.5L380.2,869.4L381.4,867.3L382.7,865.1L384.0,863.0L385.3,860.8L386.6,858.7L387.9,856.5L389.2,854.4L390.5,852.3L391.8,850.1L393.1,848.0L394.4,845.9L395.8,843.7L397.1,841.6L398.4,839.5L399.7,837.3L401.1,835.2L402.4,833.1L403.7,831.0L405.1,828.9L406.4,826.8L407.8,824.7L409.1,822.5L410.5,820.4L411.8,818.3L413.2,816.2L414.6,814.1L415.9,812.0L417.3,810.0L418.7,807.9L420.1,805.8L421.5,803.7L422.8,801.6L424.2,799.5L425.6,797.4L427.0,795.3L428.4,793.3L429.8,791.2L431.2,789.1L432.6,787.0L434.0,784.9L435.4,782.9L436.8,780.8L438.2,778.7L439.6,776.6L441.0,774.6L442.4,772.5L443.8,770.4L445.2,768.4L446.6,766.3L448.0,764.2L449.4,762.1L450.8,760.1L452.2,758.0L453.6,755.9L455.0,753.8L456.4,751.8L457.8,749.7L459.2,747.6L460.6,745.5L462.0,743.5L463.4,741.4L464.8,739.3L466.2,737.2L467.6,735.2L469.0,733.1L470.5,731.0L471.9,728.9L473.3,726.9L474.7,724.8L476.2,722.8L477.6,720.8L479.1,718.7L480.6,716.7L482.1,714.7L483.6,712.7L485.2,710.7L486.7,708.8L488.3,706.8L489.9,704.9L491.5,703.0L493.2,701.1L494.8,699.2L496.5,697.4L498.2,695.6L500.0,693.8L501.8,692.0L503.6,690.3L505.4,688.6L507.3,686.9L509.2,685.3L511.1,683.7L513.1,682.1L515.1,680.6L517.1,679.1L519.1,677.7L521.2,676.3L523.3,674.9L525.4,673.6L527.6,672.3L529.7,671.1L531.9,669.9L534.2,668.7L536.4,667.6L538.7,666.5L541.0,665.5L543.3,664.6L545.6,663.6L548.0,662.8L550.3,662.0L552.7,661.2L555.1,660.5L557.5,659.9L560.0,659.3L562.4,658.8L564.9,658.3L567.4,657.9L569.8,657.6L572.3,657.3L574.8,657.1L577.3,657.0L579.8,657.0L582.3,657.0L584.8,657.2L587.3,657.4L589.8,657.6L592.3,658.0L594.8,658.4L597.2,659.0L599.6,659.6L602.0,660.3L604.4,661.1L606.8,662.0L609.1,662.9L611.4,664.0L613.6,665.1L615.8,666.3L618.0,667.6L620.1,668.9L622.1,670.3L624.1,671.8L626.1,673.4L628.0,675.0" fill="none" stroke="#c4509e" stroke-width="3.10" stroke-linecap="round" stroke-linejoin="round" stroke-dasharray="0.01 5.81" clip-path="url(#cb)" />
<path d="M92.2,1089.3L94.7,1089.2L97.2,1089.1L99.7,1088.9L102.2,1088.8L104.7,1088.7L107.2,1088.5L109.7,1088.4L112.2,1088.2L114.7,1088.0L117.2,1087.8L119.7,1087.5L122.2,1087.3L124.7,1087.0L127.2,1086.7L129.7,1086.4L132.1,1086.0L134.6,1085.7L137.1,1085.3L139.6,1084.8L142.0,1084.3L144.5,1083.8L146.9,1083.2L149.3,1082.6L151.8,1082.0L154.2,1081.3L156.6,1080.6L159.0,1079.8L161.3,1079.0L163.7,1078.2L166.0,1077.3L168.4,1076.4L170.7,1075.4L173.0,1074.5L175.3,1073.5L177.6,1072.4L179.9,1071.4L182.1,1070.3L184.4,1069.2L186.6,1068.0L188.8,1066.8L191.0,1065.6L193.2,1064.4L195.4,1063.2L197.5,1061.9L199.7,1060.7L201.9,1059.4L204.0,1058.1L206.1,1056.8L208.3,1055.4L210.4,1054.1L212.5,1052.8L214.6,1051.4L216.7,1050.0L218.8,1048.7L220.9,1047.3L223.0,1046.0L225.1,1044.6L227.2,1043.2L229.3,1041.9L231.4,1040.5L233.5,1039.2L235.7,1037.8L237.8,1036.5L239.9,1035.1L242.0,1033.7L244.1,1032.4L246.2,1031.0L248.3,1029.6L250.3,1028.2L252.4,1026.8L254.5,1025.4L256.5,1023.9L258.5,1022.4L260.5,1020.9L262.5,1019.4L264.5,1017.9L266.5,1016.3L268.4,1014.7L270.3,1013.1L272.2,1011.4L274.0,1009.7L275.8,1008.0L277.6,1006.3L279.4,1004.5L281.2,1002.7L282.9,1000.9L284.6,999.1L286.3,997.2L288.0,995.3L289.6,993.5L291.2,991.5L292.9,989.6L294.4,987.7L296.0,985.7L297.6,983.8L299.1,981.8L300.6,979.8L302.1,977.8L303.6,975.8L305.1,973.8L306.6,971.7L308.0,969.7L309.5,967.6L310.9,965.6L312.3,963.5L313.8,961.5L315.2,959.4L316.6,957.3L318.0,955.3L319.4,953.2L320.8,951.1L322.2,949.0L323.6,946.9L325.0,944.8L326.4,942.8L327.7,940.7L329.1,938.6L330.5,936.5L331.9,934.4L333.3,932.3L334.6,930.2L336.0,928.1L337.4,926.0L338.7,923.9L340.1,921.8L341.5,919.7L342.8,917.6L344.2,915.5L345.6,913.4L346.9,911.3L348.3,909.2L349.6,907.1L351.0,905.0L352.4,902.9L353.7,900.8L355.1,898.7L356.4,896.6L357.8,894.5L359.2,892.3L360.5,890.2L361.9,888.1L363.2,886.0L364.6,883.9L366.0,881.8L367.3,879.7L368.7,877.6L370.0,875.5L371.4,873.4L372.8,871.3L374.1,869.2L375.5,867.1L376.9,865.0L378.2,862.9L379.6,860.8L381.0,858.7L382.4,856.6L383.7,854.5L385.1,852.4L386.5,850.3L387.8,848.2L389.2,846.1L390.6,844.0L392.0,841.9L393.3,839.8L394.7,837.8L396.1,835.7L397.5,833.6L398.8,831.5L400.2,829.4L401.6,827.3L403.0,825.2L404.3,823.1L405.7,821.0L407.1,818.9L408.4,816.8L409.8,814.7L411.2,812.6L412.5,810.5L413.9,808.4L415.2,806.3L416.6,804.1L417.9,802.0L419.3,799.9L420.7,797.8L422.0,795.7L423.4,793.6L424.7,791.5L426.0,789.4L427.4,787.3L428.7,785.1L430.1,783.0L431.4,780.9L432.7,778.8L434.0,776.6L435.4,774.5L436.7,772.4L438.0,770.2L439.3,768.1L440.6,766.0L441.9,763.8L443.3,761.7L444.6,759.6L445.9,757.4L447.2,755.3L448.5,753.2L449.9,751.1L451.2,748.9L452.5,746.8L453.9,744.7L455.3,742.6L456.7,740.5L458.0,738.5L459.5,736.4L460.9,734.3L462.3,732.3L463.8,730.2L465.3,728.2L466.8,726.2L468.3,724.2L469.9,722.3L471.4,720.3L473.0,718.4L474.7,716.5L476.3,714.6L478.0,712.7L479.7,710.9L481.4,709.1L483.2,707.3L485.0,705.6L486.8,703.8L488.7,702.2L490.5,700.5L492.5,698.9L494.4,697.3L496.4,695.7L498.3,694.2L500.4,692.7L502.4,691.3L504.5,689.9L506.6,688.5L508.7,687.2L510.9,685.9L513.0,684.6L515.2,683.4L517.5,682.3L519.7,681.2L522.0,680.1L524.3,679.1L526.6,678.2L528.9,677.3L531.3,676.5L533.7,675.7L536.1,675.0L538.5,674.3L541.0,673.8L543.4,673.3L545.9,672.9L548.4,672.5L550.9,672.2L553.4,672.1L555.9,672.0L558.4,671.9L560.9,672.0L563.4,672.2L565.9,672.4L568.3,672.8L570.8,673.2L573.3,673.8L575.7,674.4L578.1,675.1L580.5,675.9L582.8,676.8L585.1,677.7L587.4,678.7L589.7,679.8L592.0,680.8L594.2,682.0L596.4,683.2L598.6,684.4L600.8,685.6L603.0,686.9L605.1,688.2L607.2,689.5L609.3,690.8L611.5,692.2L613.6,693.6L615.6,694.9L617.7,696.3L619.8,697.7L621.9,699.1L624.0,700.5L626.1,701.9L628.1,703.3L630.2,704.7L632.3,706.1L634.4,707.5L636.5,708.8L638.6,710.2L640.7,711.6L642.8,712.9L645.0,714.2L647.1,715.5L649.2,716.8L651.4,718.1L653.6,719.3L655.8,720.5L658.0,721.7" fill="none" stroke="#000" stroke-width="3.50" stroke-linecap="round" stroke-linejoin="round" clip-path="url(#cb)" />
<path d="M147.4,646.8H203.5" stroke="#e07c1e" stroke-width="3.50" stroke-linecap="round" stroke-dasharray="3.8 9.25" />
<text x="210.8" y="655.8" font-size="25.7">KS-45<tspan font-size="17.0" font-style="italic" dx="0.5" dy="-11.0">#</tspan></text>
<path d="M147.4,682.5H201.5" stroke="#8c14aa" stroke-width="3.50" stroke-linecap="round" stroke-dasharray="7.5 8.2 0.01 7.3" />
<text x="210.8" y="690.4" font-size="25.7">KS-90<tspan font-size="17.0" font-style="italic" dx="0.5" dy="-11.0">#</tspan></text>
<path d="M147.1,717.5H199.6" stroke="#c4509e" stroke-width="3.10" stroke-linecap="round" stroke-dasharray="0.01 5.81" />
<text x="210.8" y="725.3" font-size="25.7">KS-135<tspan font-size="17.0" font-style="italic" dx="0.5" dy="-11.0">#</tspan></text>
<path d="M147.4,753.0H204.2" stroke="#000" stroke-width="3.50" stroke-linecap="round" />
<text x="210.8" y="761.0" font-size="25.7">TS<tspan font-size="17.0" font-style="italic" dx="0.5" dy="-11.0">#</tspan></text>
<text x="419" y="1157.8" text-anchor="middle" font-size="26">Axial strain <tspan font-style="italic">&#949;</tspan> (%)</text>
<text transform="translate(27.4,848.8) rotate(-90)" text-anchor="middle" font-size="26.2">Axial stress <tspan font-style="italic">&#963;</tspan> (MPa)</text>
<text x="384.6" y="1187.5" text-anchor="middle" font-size="25.5">(<tspan font-weight="bold">b</tspan>)</text>
</svg>
</body></html>
